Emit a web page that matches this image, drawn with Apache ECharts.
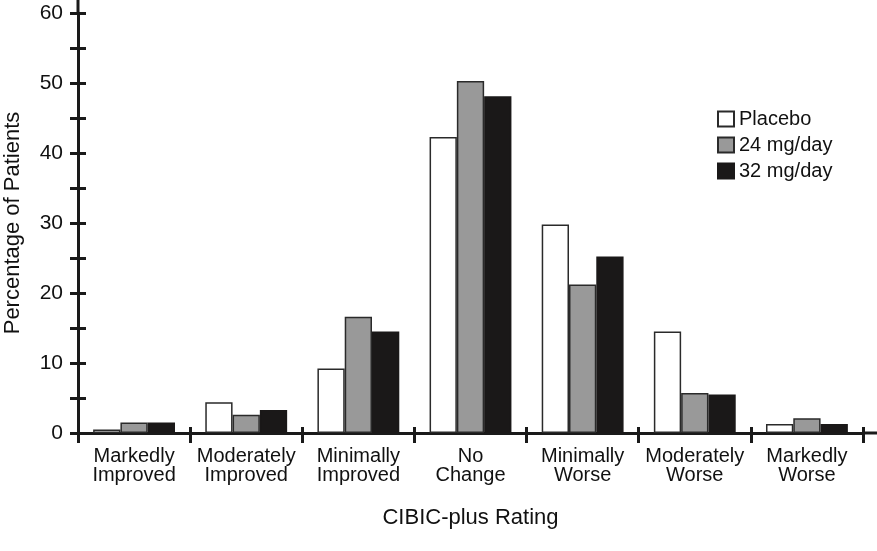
<!DOCTYPE html>
<html>
<head>
<meta charset="utf-8">
<script src="https://cdn.jsdelivr.net/npm/echarts@6/dist/echarts.min.js"></script>
<style>
html,body{margin:0;padding:0;background:#fff;}
#c{width:877px;height:551px;}
</style>
</head>
<body>
<div id="c"></div>
<script>
var categories = ['Markedly\nImproved', 'Moderately\nImproved', 'Minimally\nImproved', 'No\nChange', 'Minimally\nWorse', 'Moderately\nWorse', 'Markedly\nWorse'];
var placebo = [0.5, 4.4, 9.2, 42.3, 29.8, 14.5, 1.3];
var mg24 = [1.5, 2.6, 16.6, 50.3, 21.2, 5.7, 2.1];
var mg32 = [1.5, 3.3, 14.5, 48.1, 25.2, 5.5, 1.3];
var seriesNames = ['Placebo', '24 mg/day', '32 mg/day'];
var yTicks = [0, 10, 20, 30, 40, 50, 60];

var font = '"Liberation Sans", Arial, Helvetica, sans-serif';
var chart = echarts.init(document.getElementById('c'), null, {renderer: 'canvas'});
var lineC = '#1a1a1a';
var colors = ['#ffffff', '#999999', '#1a1818'];
var borders = ['#2a2a2a', '#2a2a2a', '#1a1818'];
var data = [placebo, mg24, mg32];

chart.setOption({
  animation: false,
  backgroundColor: '#ffffff',
  grid: {left: 78, right: 14, top: 13, bottom: 118, containLabel: false, outerBoundsMode: 'none'},
  legend: {
    orient: 'vertical', left: 712, top: 104, itemGap: 6,
    itemWidth: 16, itemHeight: 15, icon: 'rect',
    textStyle: {fontFamily: font, fontSize: 20, color: '#111'},
    data: seriesNames
  },
  xAxis: [{
    type: 'category', data: categories,
    axisLine: {lineStyle: {color: lineC, width: 3}},
    axisTick: {show: true, length: 10, lineStyle: {color: lineC, width: 3}},
    axisLabel: {fontFamily: font, fontSize: 20, color: '#111', lineHeight: 19, margin: 14, interval: 0},
    name: 'CIBIC-plus Rating', nameLocation: 'middle', nameGap: 74,
    nameTextStyle: {fontFamily: font, fontSize: 22, color: '#111'}
  }, {
    type: 'category', data: categories, position: 'bottom',
    axisLine: {show: false},
    axisTick: {show: true, inside: true, length: 6, lineStyle: {color: lineC, width: 3}},
    axisLabel: {show: false}
  }],
  yAxis: [{
    type: 'value', min: 0, max: 60, interval: 5,
    axisLine: {show: true, lineStyle: {color: lineC, width: 3}},
    axisTick: {show: true, length: 8, lineStyle: {color: lineC, width: 3}},
    splitLine: {show: false},
    axisLabel: {fontFamily: font, fontSize: 21, color: '#111', margin: 15,
      formatter: function (v) { return yTicks.indexOf(v) >= 0 ? String(v) : ''; }},
    name: 'Percentage of Patients', nameLocation: 'middle', nameGap: 54,
    nameTextStyle: {fontFamily: font, fontSize: 22, color: '#111'}
  }, {
    type: 'value', min: 0, max: 60, interval: 5, position: 'left',
    axisLine: {show: false},
    axisTick: {show: true, inside: true, length: 8, lineStyle: {color: lineC, width: 3}},
    splitLine: {show: false},
    axisLabel: {show: false}
  }],
  graphic: [{
    type: 'line', shape: {x1: 862, y1: 433, x2: 877, y2: 433},
    style: {stroke: lineC, lineWidth: 3}
  }, {
    type: 'line', shape: {x1: 78, y1: 0, x2: 78, y2: 14},
    style: {stroke: lineC, lineWidth: 3}
  }],
  series: seriesNames.map(function (n, i) {
    return {
      name: n, type: 'bar', data: data[i],
      barGap: '0%', barCategoryGap: '27%',
      itemStyle: {color: colors[i], borderColor: borders[i], borderWidth: 1.5}
    };
  })
});
</script>
</body>
</html>
